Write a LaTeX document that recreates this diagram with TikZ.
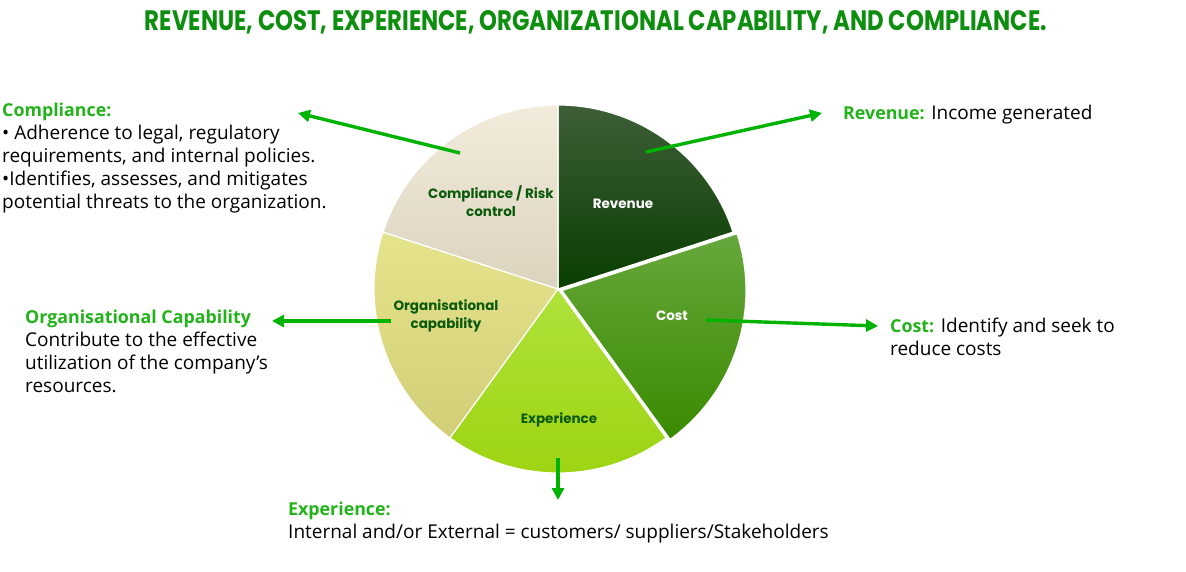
\documentclass[tikz,border=0pt]{standalone}
\usepackage{fontspec}
\setmainfont{Open Sans}
\newfontfamily\heavyfont{Poppins}
\usetikzlibrary{arrows.meta}
\definecolor{titlegreen}{HTML}{0E8E0E}
\definecolor{headgreen}{HTML}{22B31A}
\definecolor{arrowgreen}{HTML}{00B300}
\definecolor{labelgreen}{HTML}{0B5A0B}
\definecolor{revtop}{HTML}{3E5E38}
\definecolor{revbot}{HTML}{083E00}
\definecolor{costtop}{HTML}{66A83C}
\definecolor{costbot}{HTML}{3A8A00}
\definecolor{exptop}{HTML}{B0E23C}
\definecolor{expbot}{HTML}{9CD30F}
\definecolor{orgtop}{HTML}{E4E48C}
\definecolor{orgbot}{HTML}{D2CE78}
\definecolor{comptop}{HTML}{F2ECDC}
\definecolor{compbot}{HTML}{DCD3BE}
\tikzset{
  conn/.style={draw=arrowgreen, line width=3.4pt, -{Triangle[length=12pt,width=12pt]}},
  body/.style={inner sep=0pt, align=left, font=\fontsize{19}{23}\selectfont, text=black},
  slicelabel/.style={inner sep=0pt, align=center, font=\heavyfont\bfseries\fontsize{13.5}{18}\selectfont},
  sliceedge/.style={draw=white, line width=1.2pt}
}
\newcommand{\hd}[1]{\textcolor{headgreen}{\bfseries\fontsize{17.8}{23}\selectfont #1}}
\newcommand{\pieslice}[5]{% cx,cy,start,end,shading options
  \shade[#5] (#1,#2) -- ++(#3:184) arc[start angle=#3,end angle=#4,radius=184] -- cycle;
  \draw[sliceedge] (#1,#2) -- ++(#3:184) arc[start angle=#3,end angle=#4,radius=184] -- cycle;
}
\begin{document}
\begin{tikzpicture}[x=1pt,y=-1pt]
\useasboundingbox[fill=white] (0,0) rectangle (1186,571);
% title
\node[inner sep=0pt, anchor=north] (title) at (596,10)
  {\resizebox{902pt}{20pt}{\heavyfont\bfseries\color{titlegreen}REVENUE, COST, EXPERIENCE, ORGANIZATIONAL CAPABILITY, AND COMPLIANCE.}};
% pie slices
\pieslice{558}{289}{-90}{-18}{top color=revtop,bottom color=revbot}
\pieslice{562}{290.5}{-18}{54}{top color=costtop,bottom color=costbot}
\pieslice{558}{289}{54}{126}{top color=exptop,bottom color=expbot}
\pieslice{558}{289}{126}{198}{top color=orgtop,bottom color=orgbot}
\pieslice{558}{289}{198}{270}{top color=comptop,bottom color=compbot}
% slice labels
\node[slicelabel, text=labelgreen] (lcomp) at (491,201) {Compliance / Risk\\control};
\node[slicelabel, text=white] (lrev) at (623,204) {Revenue};
\node[slicelabel, text=white] (lcost) at (672,316) {Cost};
\node[slicelabel, text=labelgreen] (lorg) at (446,316) {Organisational\\capability};
\node[slicelabel, text=labelgreen] (lexp) at (559,420) {Experience};
% text blocks
\node[body, anchor=north west] (tcomp) at (2,102.5) {\hd{Compliance:}\\
• Adherence to legal, regulatory\\requirements, and internal policies.\\
•Identifies, assesses, and mitigates\\potential threats to the organization.};
\node[body, anchor=north west] (trev) at (843,104.5) {\hd{Revenue:} Income generated};
\node[body, anchor=north west] (tcost) at (890,317.5) {\hd{Cost:} Identify and seek to\\reduce costs};
\node[body, anchor=north west] (torg) at (25,309.5) {\hd{Organisational Capability}\\
Contribute to the effective\\utilization of the company’s\\resources.};
\node[body, anchor=north west] (texp) at (288,501.5) {\hd{Experience:}\\
Internal and/or External = customers/ suppliers/Stakeholders};
% connector coordinates
\coordinate (scomp) at (460,153);
\coordinate (ecomp) at (298,113);
\coordinate (srev) at (646,152);
\coordinate (erev) at (822,113);
\coordinate (scost) at (706,320);
\coordinate (ecost) at (878,326);
\coordinate (sorg) at (391,321);
\coordinate (eorg) at (272,321);
\coordinate (sexp) at (558,458);
\coordinate (eexp) at (558,500);
\draw[conn] (scomp) -- (ecomp);
\draw[conn] (srev) -- (erev);
\draw[conn] (scost) -- (ecost);
\draw[conn] (sorg) -- (eorg);
\draw[conn] (sexp) -- (eexp);
\end{tikzpicture}
\end{document}
